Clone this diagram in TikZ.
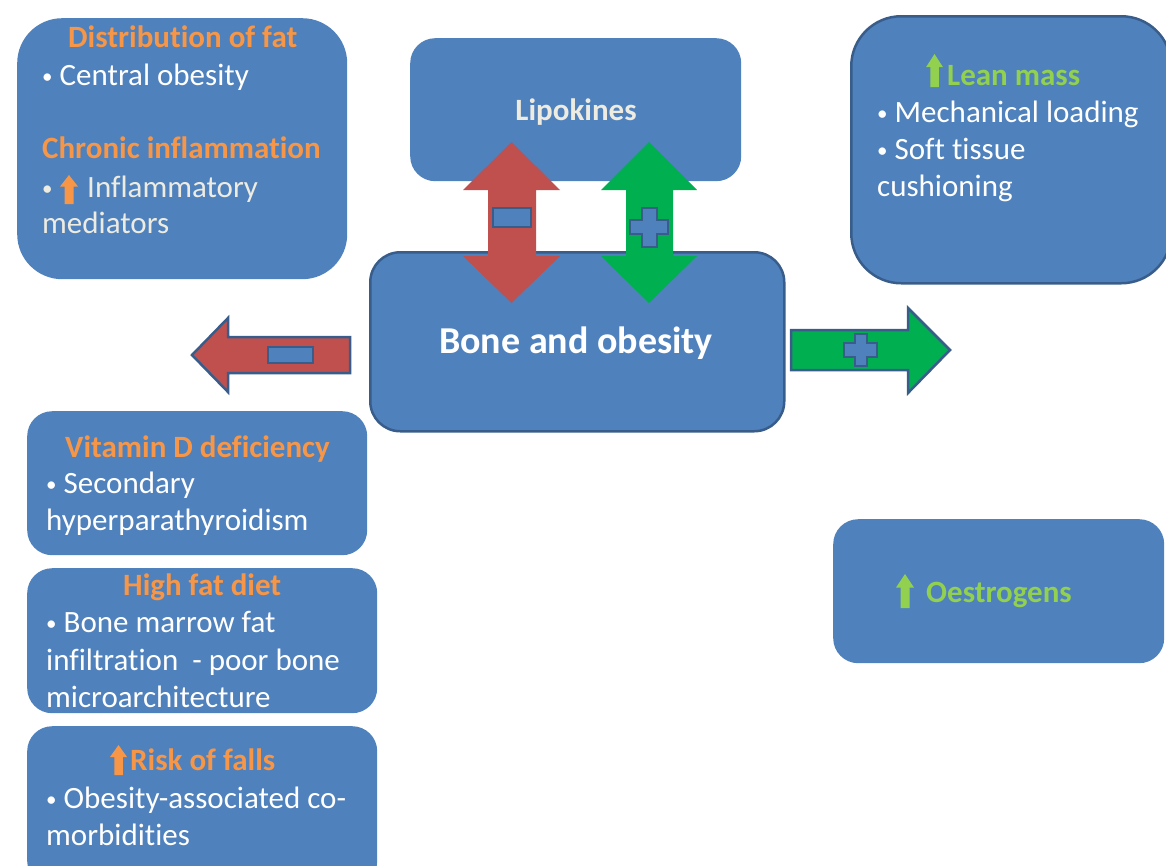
\documentclass[tikz,border=0pt]{standalone}
\usepackage{fontspec}
\setmainfont{Carlito}[Ligatures=NoCommon]
\definecolor{boxblue}{HTML}{4F81BD}
\definecolor{edgeblue}{HTML}{385D8A}
\definecolor{redA}{HTML}{C0504D}
\definecolor{greenA}{HTML}{00B050}
\definecolor{orangeT}{HTML}{F79646}
\definecolor{greenT}{HTML}{92D050}
\definecolor{creamT}{HTML}{EEECE1}
\newcommand\bul{{\fontsize{21}{21}\selectfont\raisebox{2pt}{•}}\hspace{7pt}}
\tikzset{
  box/.style={fill=boxblue, rounded corners=#1, anchor=north west, inner sep=0pt},
  box/.default=25pt,
  edged/.style={draw=edgeblue, line width=2.5pt},
  txt/.style={anchor=base west, inner sep=0pt, font=\fontsize{31}{37}\selectfont, text=white},
  head/.style={txt, font=\fontsize{31}{37}\selectfont\bfseries, text=orangeT},
  sign/.style={fill=boxblue, draw=edgeblue, line width=2pt},
  blockarrow/.style={draw=edgeblue, line width=2.5pt, line join=miter},
  uarr/.pic={\fill[#1] (-0.25,0) -- (0.25,0) -- (0.25,-0.6) -- (0.5,-0.6) -- (0,-1) -- (-0.5,-0.6) -- (-0.25,-0.6) -- cycle;}
}
\begin{document}
\begin{tikzpicture}[x=1pt,y=-1pt]
\useasboundingbox (0,0) rectangle (1166,865);
% boxes
\node[box=45pt, minimum width=330pt, minimum height=261pt] (dist) at (17,18) {};
\node[box=25pt, minimum width=331pt, minimum height=143pt] (lipo) at (410,38) {};
\node[box=30pt, edged, minimum width=414pt, minimum height=179pt] (bone) at (369,251) {};
\node[box=50pt, edged, minimum width=320pt, minimum height=267pt] (lean) at (850,15) {};
\node[box=25pt, minimum width=340pt, minimum height=144pt] (vitd) at (27,411) {};
\node[box=25pt, minimum width=350pt, minimum height=145pt] (hfd) at (27,568) {};
\node[box=25pt, minimum width=350pt, minimum height=160pt] (risk) at (27,726) {};
\node[box=25pt, minimum width=331pt, minimum height=144pt] (oest) at (833,519) {};

% vertical double arrows
\fill[redA] (511.5,142) -- (560,190) -- (536,190) -- (536,256) -- (560,256) -- (511.5,303) -- (463,256) -- (488,256) -- (488,190) -- (463,190) -- cycle;
\fill[greenA] (649,142) -- (697,190) -- (673,190) -- (673,256) -- (697,256) -- (649,303) -- (601,256) -- (626,256) -- (626,190) -- (601,190) -- cycle;
\draw[sign] (493,208) rectangle (531,227);
\draw[sign] (642,208) -- (657,208) -- (657,220) -- (668,220) -- (668,234) -- (657,234) -- (657,247) -- (642,247) -- (642,234) -- (630,234) -- (630,220) -- (642,220) -- cycle;

% side block arrows
\draw[blockarrow, fill=redA] (192,355) -- (228,318) -- (228,337) -- (350,337) -- (350,373) -- (228,373) -- (228,392) -- cycle;
\draw[sign] (268,347) rectangle (313,363);
\draw[blockarrow, fill=greenA] (791,330) -- (908,330) -- (908,308) -- (950,350) -- (908,393) -- (908,370) -- (791,370) -- cycle;
\draw[sign] (855,334) -- (867,334) -- (867,343) -- (877,343) -- (877,357) -- (867,357) -- (867,366) -- (855,366) -- (855,357) -- (844,357) -- (844,343) -- (855,343) -- cycle;

% texts
\node[head] (t1) at (68,47) {Distribution of fat};
\node[txt] (t2) at (42,85) {\bul Central obesity};
\node[head] (t3) at (42,158) {Chronic inflammation};
\node[txt, text=creamT] (t4) at (42,197) {\bul};
\pic[xscale=18, yscale=29] at (69,204) {uarr=orangeT};
\node[txt, text=creamT] (t5) at (87,197) {Inflammatory};
\node[txt, text=creamT] (t6) at (42,233) {mediators};

\node[txt, font=\fontsize{31}{37}\selectfont\bfseries, text=creamT, anchor=base] (t7) at (576,120) {Lipokines};
\node[txt, font=\fontsize{38}{44}\selectfont\bfseries, anchor=base] (t8) at (576,353) {Bone and obesity};

\pic[xscale=17, yscale=33] at (934.5,87) {uarr=greenT};
\node[head, text=greenT] (t9) at (947,85) {Lean mass};
\node[txt] (t10) at (877,122) {\bul Mechanical loading};
\node[txt] (t11) at (877,159) {\bul Soft tissue};
\node[txt] (t12) at (877,196) {cushioning};

\node[head] (t13) at (65,457) {Vitamin D deficiency};
\node[txt] (t14) at (46,493) {\bul Secondary};
\node[txt] (t15) at (46,530) {hyperparathyroidism};

\node[head] (t16) at (123,595) {High fat diet};
\node[txt] (t17) at (46,632) {\bul Bone marrow fat};
\node[txt] (t18) at (46,670) {infiltration\ \ - poor bone};
\node[txt] (t19) at (46,707) {microarchitecture};

\pic[xscale=17, yscale=30] at (118.5,775) {uarr=orangeT};
\node[head] (t20) at (130,770) {Risk of falls};
\node[txt] (t21) at (46,808) {\bul Obesity-associated co-};
\node[txt] (t22) at (46,845) {morbidities};

\pic[xscale=18, yscale=34] at (905,608) {uarr=greenT};
\node[head, text=greenT] (t23) at (926,602) {Oestrogens};
\end{tikzpicture}
\end{document}
